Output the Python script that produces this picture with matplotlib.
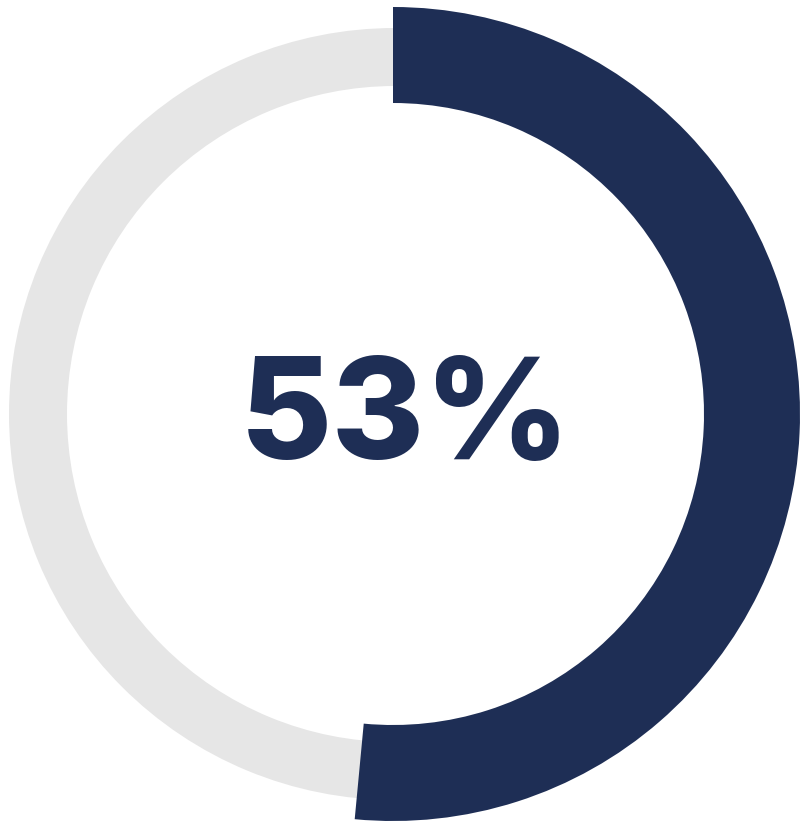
import matplotlib
matplotlib.use('Agg')
import matplotlib.pyplot as plt

# values
label_text = '53%'
filled = 51.5          # share of the ring the navy arc covers
rest = 100 - filled

navy = '#1e2e55'
grey = '#e6e6e6'

fig = plt.figure(figsize=(8.09, 8.31), dpi=100)
ax = fig.add_axes([0, 0, 1, 1])

# background ring (thin, grey)
ax.pie([100], colors=[grey], radius=386, center=(395, 417),
       wedgeprops=dict(width=58, linewidth=0))

# value arc (thick, navy), clockwise from 12 o'clock
ax.pie([filled, rest], colors=[navy, 'none'], radius=407, center=(393, 417),
       startangle=90, counterclock=False,
       wedgeprops=dict(width=96, linewidth=0))

ax.text(405, 372, label_text, ha='center', va='baseline', color=navy,
        fontsize=102, fontweight=800, family=['Inter', 'DejaVu Sans'])

ax.set_xlim(0, 809)
ax.set_ylim(0, 831)
ax.set_aspect('equal')
ax.axis('off')

fig.savefig('out.png', dpi=100, facecolor='white')
